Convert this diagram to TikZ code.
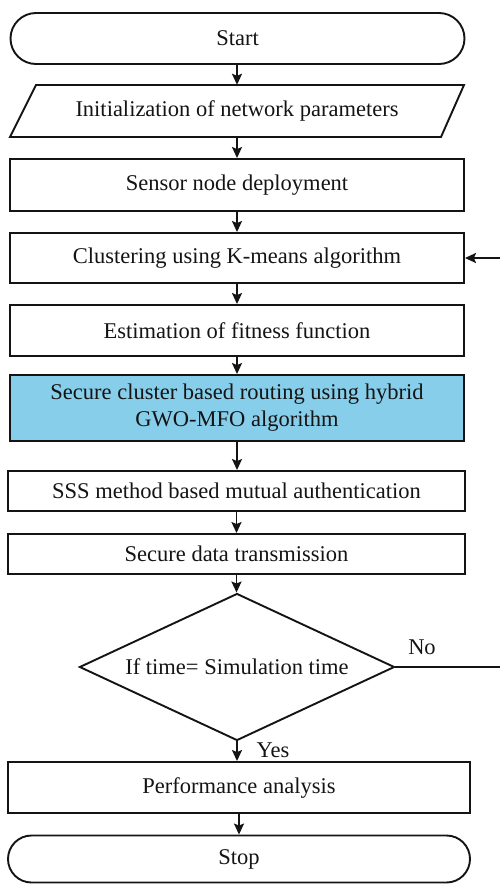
\documentclass[tikz,border=0pt]{standalone}
\usepackage{fontspec}
\setmainfont{Liberation Serif}
\usetikzlibrary{arrows.meta,shapes.geometric,shapes.misc}
\definecolor{routeblue}{RGB}{135,206,235}
\definecolor{ink}{RGB}{20,20,20}
\begin{document}
\begin{tikzpicture}[x=1pt,y=-1pt,
  every node/.style={font=\fontsize{22.5}{27}\selectfont, text=ink},
  procbox/.style={draw=ink, line width=1.9pt, rectangle, minimum width=454pt, inner sep=0pt, align=center},
  terminal/.style={draw=ink, line width=1.9pt, rounded rectangle, inner sep=0pt},
  decision/.style={draw=ink, line width=1.9pt, diamond, inner sep=0pt},
  flow/.style={draw=ink, line width=1.9pt, -{Stealth[length=11pt,width=10pt,inset=2pt]}},
  plain/.style={draw=ink, line width=1.9pt}]
\useasboundingbox (0,0) rectangle (500,884);

% terminals and process steps
\node[terminal, minimum width=454pt, minimum height=51pt] (start) at (237.5,38.5) {Start};
\node[minimum width=420pt, minimum height=52pt, inner sep=0pt] (param) at (237,111) {Initialization of network parameters};
\draw[plain, line join=miter] (10,137) -- (36,85) -- (464,85) -- (441,137) -- cycle;
\node[procbox, minimum height=52pt] (deploy) at (237,185) {Sensor node deployment};
\node[procbox, minimum height=50pt] (cluster) at (237,258) {Clustering using K-means algorithm};
\node[procbox, minimum height=51pt] (fitness) at (237,330.5) {Estimation of fitness function};
\node[procbox, minimum height=66pt, fill=routeblue] (routing) at (237,408) {Secure cluster based routing using hybrid\\GWO-MFO algorithm};
\node[procbox, minimum width=457pt, minimum height=40pt] (sss) at (236.5,491) {SSS method based mutual authentication};
\node[procbox, minimum width=457pt, minimum height=40pt] (sdt) at (236.5,554) {Secure data transmission};
\node[decision, minimum width=315pt, minimum height=147pt, shape aspect=2.14] (dec) at (237,667) {If time= Simulation time};
\node[procbox, minimum width=462pt, minimum height=51pt] (perf) at (239,787.5) {Performance analysis};
\node[terminal, minimum width=462pt, minimum height=47pt] (stop) at (239,859) {Stop};

% main flow
\draw[flow] (start.south -| param.north) -- (param.north);
\draw[flow] (param.south) -- (param.south |- deploy.north);
\draw[flow] (deploy.south) -- (cluster.north);
\draw[flow] (cluster.south) -- (fitness.north);
\draw[flow] (fitness.south) -- (routing.north);
\draw[flow] (routing.south) -- (routing.south |- sss.north);
\draw[flow] (sss.south) -- (sdt.north);
\draw[flow] (sdt.south) -- (sdt.south |- dec.north);
\draw[flow] (dec.south) -- (dec.south |- perf.north);
\draw[flow] (perf.south) -- (stop.north);
\node (yes) at (273,750) {Yes};

% loop back when simulation time is not reached
\coordinate (loopout) at (500,667);
\coordinate (loopin) at (500,258);
\draw[plain] (dec.east) -- (loopout);
\draw[flow] (loopin) -- (cluster.east);
\node (no) at (422,647) {No};
\end{tikzpicture}
\end{document}
